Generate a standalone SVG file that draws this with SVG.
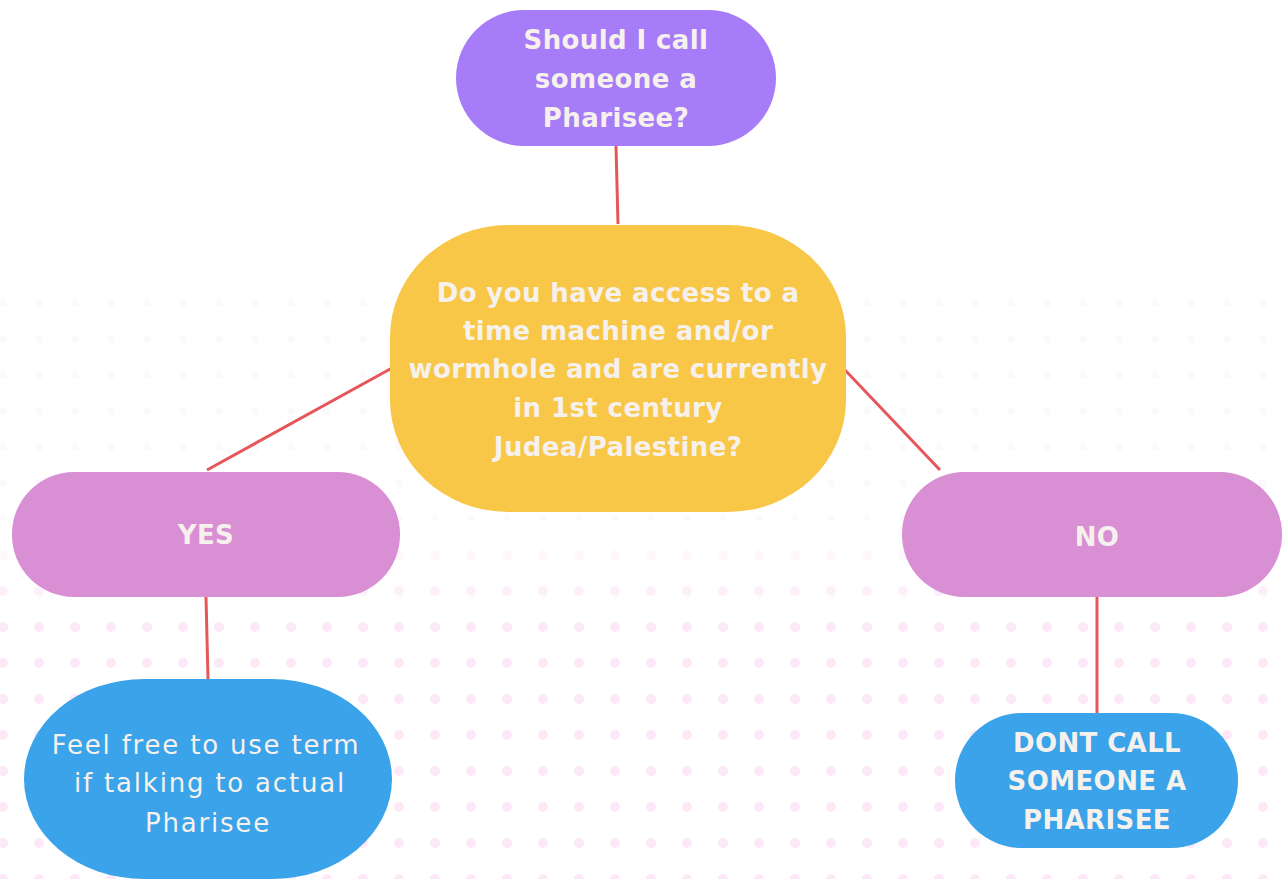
<svg xmlns="http://www.w3.org/2000/svg" width="1282" height="879" viewBox="0 0 1282 879">
<style>
.t{font-family:"DejaVu Sans","Liberation Sans",sans-serif;fill:#f6f1ec;text-anchor:middle}
.b{font-weight:700;font-size:26px;letter-spacing:0.4px}
.r{font-weight:400;font-size:26px;letter-spacing:1.8px}
.c{stroke:#e6575c;stroke-width:3;fill:none}
</style>
<defs>
<pattern id="dots" x="-15" y="-3" width="36" height="36" patternUnits="userSpaceOnUse">
<circle cx="18" cy="18" r="5" fill="#fde8f7"/>
</pattern>
<pattern id="dotsG" x="-15" y="-3" width="36" height="36" patternUnits="userSpaceOnUse">
<circle cx="18" cy="18" r="4" fill="#fbf9fb"/>
</pattern>
<linearGradient id="fade" x1="0" y1="0" x2="0" y2="1">
<stop offset="0" stop-color="#fff" stop-opacity="1"/>
<stop offset="1" stop-color="#fff" stop-opacity="0"/>
</linearGradient>
</defs>
<rect width="1282" height="879" fill="#ffffff"/>
<rect x="0" y="290" width="1282" height="330" fill="url(#dotsG)"/>
<rect x="0" y="520" width="1282" height="359" fill="url(#dots)"/>
<rect x="0" y="520" width="1282" height="110" fill="url(#fade)"/>
<g id="connectors">
<line class="c" x1="616" y1="146" x2="618" y2="224"/>
<line class="c" x1="392" y1="368" x2="207" y2="470"/>
<line class="c" x1="845" y1="370" x2="940" y2="470"/>
<line class="c" x1="206" y1="597" x2="208" y2="679"/>
<line class="c" x1="1097" y1="597" x2="1097" y2="713"/>
</g>
<g id="start">
<rect x="456" y="10" width="320" height="136" rx="68" fill="#a77cf8"/>
<text class="t b" x="616" y="49">Should I call</text>
<text class="t b" x="616" y="88">someone a</text>
<text class="t b" x="616" y="127">Pharisee?</text>
</g>
<g id="question">
<rect x="390" y="225" width="456" height="287" rx="118" ry="112" fill="#f8c747"/>
<text class="t b" x="618" y="302">Do you have access to a</text>
<text class="t b" x="618" y="340">time machine and/or</text>
<text class="t b" x="618" y="378">wormhole and are currently</text>
<text class="t b" x="618" y="417">in 1st century</text>
<text class="t b" x="618" y="456">Judea/Palestine?</text>
</g>
<g id="yes">
<rect x="12" y="472" width="388" height="125" rx="62" fill="#d98fd3"/>
<text class="t b" x="206" y="544">YES</text>
</g>
<g id="no">
<rect x="902" y="472" width="380" height="125" rx="62" fill="#d98fd3"/>
<text class="t b" x="1097" y="546">NO</text>
</g>
<g id="yes-result">
<rect x="24" y="679" width="368" height="200" rx="120" ry="100" fill="#3aa3e9"/>
<text class="t r" x="206" y="754">Feel free to use term</text>
<text class="t r" x="210" y="792">if talking to actual</text>
<text class="t r" x="208" y="832">Pharisee</text>
</g>
<g id="no-result">
<rect x="955" y="713" width="283" height="135" rx="67" fill="#3aa3e9"/>
<text class="t b" x="1097" y="752">DONT CALL</text>
<text class="t b" x="1097" y="790">SOMEONE A</text>
<text class="t b" x="1097" y="829">PHARISEE</text>
</g>
</svg>
